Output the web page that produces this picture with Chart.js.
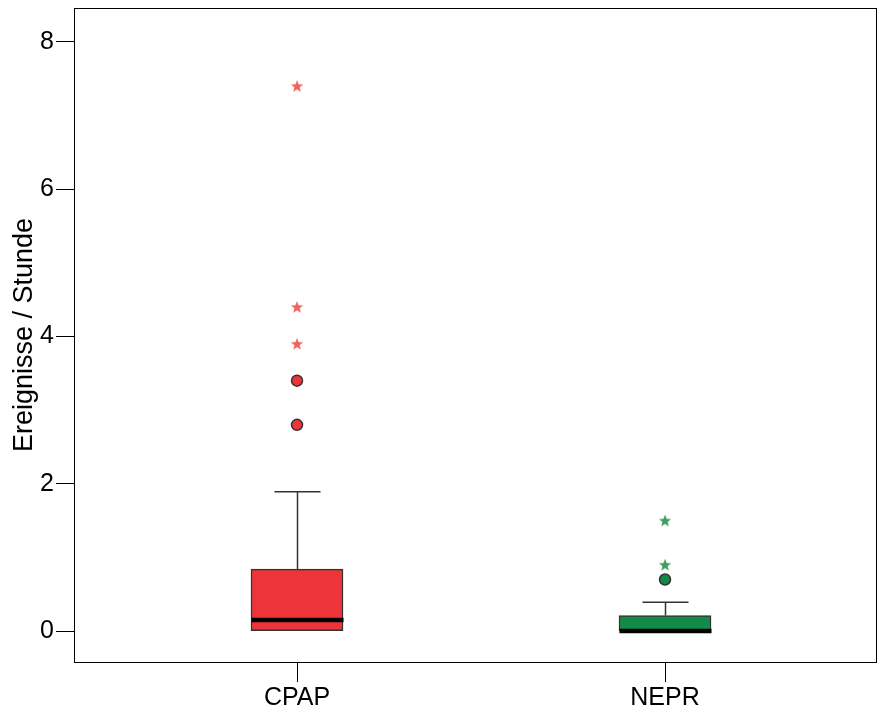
<!DOCTYPE html>
<html>
<head>
<meta charset="utf-8">
<style>
  html, body { margin: 0; padding: 0; background: #fff; }
</style>
<script src="https://cdn.jsdelivr.net/npm/chart.js@4"></script>
</head>
<body>
<canvas id="box" width="879" height="713"></canvas>
<script>
// box plot values
const categories = ['CPAP', 'NEPR'];
const q1 = [0, 0];
const median = [0.15, 0];
const q3 = [0.84, 0.21];
const whiskerHigh = [1.89, 0.39];
const outlierCircles = [[3.4, 2.8], [0.7]];
const outlierStars = [[7.4, 4.4, 3.9], [1.5, 0.9]];
const yTicks = [0, 2, 4, 6, 8];

const boxColors = ['#ec3439', '#138b48'];
const starColors = ['#f0645c', '#3f9c5f'];

const FONT = "'Liberation Sans', Arial, sans-serif";
const BOX_W = 92;

const makeStar = (color) => {
  const c = document.createElement('canvas');
  c.width = 14; c.height = 14;
  const g = c.getContext('2d');
  g.fillStyle = color;
  g.beginPath();
  for (let i = 0; i < 10; i++) {
    const r = i % 2 === 0 ? 6.5 : 2.7;
    const a = -Math.PI / 2 + i * Math.PI / 5;
    g.lineTo(7 + r * Math.cos(a), 7.5 + r * Math.sin(a));
  }
  g.closePath();
  g.fill();
  return c;
}

const starDatasets = outlierStars.map((vals, i) => ({
  type: 'scatter',
  label: categories[i] + ' extreme',
  data: vals.map(v => ({ x: i + 1, y: v })),
  pointStyle: makeStar(starColors[i]),
  pointRadius: 7
}))

const circleDatasets = outlierCircles.map((vals, i) => ({
  type: 'scatter',
  label: categories[i] + ' outlier',
  data: vals.map(v => ({ x: i + 1, y: v })),
  pointStyle: 'circle',
  pointRadius: 5.5,
  backgroundColor: boxColors[i],
  borderColor: '#333',
  borderWidth: 1.5
}))

// whiskers, caps, medians and the frame, placed through the scales
const boxExtras = {
  id: 'boxExtras',
  afterDatasetsDraw(chart) {
    const { ctx, chartArea, scales: { x, y } } = chart;
    ctx.save();
    categories.forEach((cat, i) => {
      const px = Math.round(x.getPixelForValue(i + 1)) + 0.5;
      const top = y.getPixelForValue(whiskerHigh[i]);
      const boxTop = y.getPixelForValue(q3[i]);
      ctx.strokeStyle = '#333';
      ctx.lineWidth = 1.5;
      ctx.beginPath();
      ctx.moveTo(px, boxTop);
      ctx.lineTo(px, top);
      ctx.moveTo(px - BOX_W / 4, top);
      ctx.lineTo(px + BOX_W / 4, top);
      ctx.stroke();

      const my = y.getPixelForValue(median[i]);
      ctx.strokeStyle = '#000';
      ctx.lineWidth = 4.5;
      ctx.beginPath();
      ctx.moveTo(px - BOX_W / 2, my);
      ctx.lineTo(px + BOX_W / 2, my);
      ctx.stroke();
    });
    ctx.strokeStyle = '#000';
    ctx.lineWidth = 1;
    ctx.strokeRect(chartArea.left + 0.5, chartArea.top + 0.5,
      chartArea.right - chartArea.left - 1, chartArea.bottom - chartArea.top);
    ctx.restore();
  }
}

new Chart(document.getElementById('box'), {
  type: 'bar',
  data: {
    datasets: [
      {
        label: 'box',
        data: categories.map((c, i) => ({ x: i + 1, y: [q1[i], q3[i]] })),
        backgroundColor: boxColors,
        borderColor: '#333',
        borderWidth: 1.5,
        borderSkipped: false,
        barThickness: BOX_W
      },
      ...starDatasets,
      ...circleDatasets
    ]
  },
  options: {
    responsive: false,
    animation: false,
    layout: { autoPadding: false, padding: { top: 8, right: 2, left: 0, bottom: 0 } },
    plugins: {
      legend: { display: false },
      tooltip: { enabled: false }
    },
    scales: {
      x: {
        type: 'linear',
        min: 0.394,
        max: 2.576,
        offset: false,
        afterBuildTicks: (axis) => { axis.ticks = categories.map((c, i) => ({ value: i + 1 })) },
        afterFit: (axis) => {
          axis.height = 51;
          axis.paddingLeft = 0;
          axis.paddingRight = 0;
        },
        border: { display: false },
        grid: { display: true, offset: false, drawOnChartArea: false, drawTicks: true, tickLength: 20, color: '#000', lineWidth: 1 },
        ticks: {
          callback: (v) => categories[v - 1],
          color: '#000',
          padding: 1,
          maxRotation: 0,
          font: { family: FONT, size: 25 }
        }
      },
      y: {
        min: -0.42,
        max: 8.46,
        afterBuildTicks: (axis) => { axis.ticks = yTicks.map(v => ({ value: v })) },
        afterFit: (axis) => {
          axis.width = 74;
          axis.paddingTop = 0;
          axis.paddingBottom = 0;
        },
        border: { display: false },
        grid: { display: true, drawOnChartArea: false, drawTicks: true, tickLength: 18, color: '#000', lineWidth: 1 },
        ticks: {
          color: '#000',
          padding: 2,
          font: { family: FONT, size: 25 }
        },
        title: {
          display: true,
          text: 'Ereignisse / Stunde',
          color: '#000',
          padding: { top: 8, bottom: 0 },
          font: { family: FONT, size: 27 }
        }
      }
    }
  },
  plugins: [boxExtras]
});
</script>
</body>
</html>
